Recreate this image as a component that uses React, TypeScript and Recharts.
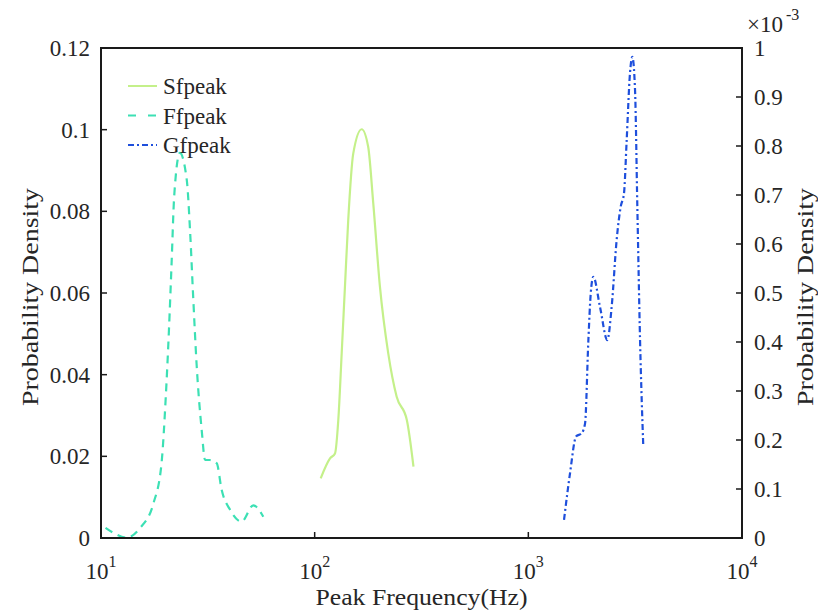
import React from 'react';
import { LineChart, Line, XAxis, YAxis, Legend, ReferenceArea, Label } from 'recharts';

// ---------- data ----------
const seriesNames = ['Sfpeak', 'Ffpeak', 'Gfpeak'];

const xTicks = [10, 100, 1000, 10000];
const xTickExponents = ['1', '2', '3', '4'];

const leftTicks = [0, 0.02, 0.04, 0.06, 0.08, 0.1, 0.12];
const leftTickLabels = ['0', '0.02', '0.04', '0.06', '0.08', '0.1', '0.12'];

const rightTicks = [0, 0.1, 0.2, 0.3, 0.4, 0.5, 0.6, 0.7, 0.8, 0.9, 1];
const rightTickLabels = ['0', '0.1', '0.2', '0.3', '0.4', '0.5', '0.6', '0.7', '0.8', '0.9', '1'];
const rightExponent = '-3';

// Sfpeak (left axis)
const sfFreq = [106.7, 118, 124.5, 129, 133.8, 138.6, 143.6, 151.6, 166, 178, 188, 202, 221, 242, 270, 290];
const sfDensity = [0.0146, 0.0195, 0.0207, 0.0289, 0.0452, 0.0616, 0.0779, 0.0942, 0.1001, 0.0958, 0.082, 0.0616, 0.0452, 0.0346, 0.0289, 0.0175];

// Ffpeak (left axis)
const ffFreq = [10.5, 11.5, 13.2, 15.2, 17.6, 19.2, 20.1, 20.8, 21.4, 22.0, 23.4, 25.2, 26.1, 27.0, 28.0, 29.6, 30.7, 32.4, 34.8, 36.7, 40.2, 45.5, 51.6, 57.5];
const ffDensity = [0.0025, 0.0012, 0.0001, 0.0024, 0.0085, 0.0183, 0.0346, 0.051, 0.0673, 0.0836, 0.0943, 0.0877, 0.0754, 0.0591, 0.0428, 0.0264, 0.0191, 0.0191, 0.0183, 0.0118, 0.0069, 0.004, 0.008, 0.0052];

// Gfpeak (right axis, in units of 1e-3)
const gfFreq = [1469, 1567, 1672, 1778, 1843, 1910, 1959, 2015, 2164, 2343, 2455, 2590, 2705, 2803, 2886, 2990, 3067, 3158, 3237, 3333, 3452];
const gfDensityE3 = [0.037, 0.132, 0.207, 0.214, 0.234, 0.404, 0.499, 0.533, 0.472, 0.404, 0.472, 0.608, 0.676, 0.703, 0.812, 0.948, 0.982, 0.914, 0.676, 0.404, 0.186];

const sfData = sfFreq.map((f, i) => ({ f, d: sfDensity[i] }));
const ffData = ffFreq.map((f, i) => ({ f, d: ffDensity[i] }));
const gfData = gfFreq.map((f, i) => ({ f, d: gfDensityE3[i] }));

// ---------- style ----------
const FONT = '"Liberation Serif", "Times New Roman", serif';
const TEXT = '#262626';
const AXIS = '#1a1a1a';
const SF_COLOR = '#c4f08a';
const FF_COLOR = '#3ce0b4';
const GF_COLOR = '#1e4fdc';
const FF_DASH = '8 6';
const GF_DASH = '6 3 2 3';

const W = 818;
const H = 613;
const PLOT_LEFT = 101;
const PLOT_RIGHT = 742;
const PLOT_TOP = 48;
const PLOT_BOTTOM = 538;
const TICK = 6;
const TICK_FONT = 23;
const SUP_FONT = 16;
const TITLE_FONT = 24;

const LeftTick = (props: any) => {
  const { x, y, payload } = props;
  const i = leftTicks.indexOf(payload.value);
  return (
    <g>
      <line x1={x} x2={x + TICK} y1={y} y2={y} stroke={AXIS} strokeWidth={1.5} />
      <text x={x - 11} y={y} dy="0.35em" textAnchor="end" fontSize={TICK_FONT} fontFamily={FONT} fill={TEXT}>
        {i >= 0 ? leftTickLabels[i] : String(payload.value)}
      </text>
    </g>
  );
};

const RightTick = (props: any) => {
  const { x, y, payload } = props;
  const i = rightTicks.indexOf(payload.value);
  return (
    <g>
      <line x1={x} x2={x - TICK} y1={y} y2={y} stroke={AXIS} strokeWidth={1.5} />
      <text x={x + 12} y={y} dy="0.35em" textAnchor="start" fontSize={TICK_FONT} fontFamily={FONT} fill={TEXT}>
        {i >= 0 ? rightTickLabels[i] : String(payload.value)}
      </text>
    </g>
  );
};

const BottomTick = (props: any) => {
  const { x, y, payload } = props;
  const i = xTicks.indexOf(payload.value);
  return (
    <g>
      <line x1={x} x2={x} y1={y} y2={y - TICK} stroke={AXIS} strokeWidth={1.5} />
      <text x={x} y={y + 41} textAnchor="middle" fontSize={TICK_FONT} fontFamily={FONT} fill={TEXT}>
        <tspan>10</tspan>
        <tspan dy={-12} fontSize={SUP_FONT}>{i >= 0 ? xTickExponents[i] : ''}</tspan>
      </text>
    </g>
  );
};

const LeftTitle = () => (
  <text
    x={30}
    y={297}
    dy="0.35em"
    transform="rotate(-90, 30, 297)"
    textAnchor="middle"
    fontSize={TITLE_FONT}
    fontFamily={FONT}
    fill={TEXT}
    textLength={218}
    lengthAdjust="spacingAndGlyphs"
  >
    Probability Density
  </text>
);

const RightTitle = () => (
  <g>
    <text
      x={805}
      y={297}
      dy="0.35em"
      transform="rotate(-90, 805, 297)"
      textAnchor="middle"
      fontSize={TITLE_FONT}
      fontFamily={FONT}
      fill={TEXT}
      textLength={218}
      lengthAdjust="spacingAndGlyphs"
    >
      Probability Density
    </text>
    <text x={747} y={32} textAnchor="start" fontSize={TICK_FONT} fontFamily={FONT} fill={TEXT}>
      ×10
    </text>
    <text x={786} y={20} textAnchor="start" fontSize={SUP_FONT} fontFamily={FONT} fill={TEXT}>
      {rightExponent}
    </text>
  </g>
);

const BottomTitle = () => (
  <text
    x={(PLOT_LEFT + PLOT_RIGHT) / 2}
    y={605}
    textAnchor="middle"
    fontSize={TITLE_FONT}
    fontFamily={FONT}
    fill={TEXT}
    textLength={212}
    lengthAdjust="spacingAndGlyphs"
  >
    Peak Frequency(Hz)
  </text>
);

const legendStyles = [
  { color: SF_COLOR, dash: undefined as string | undefined },
  { color: FF_COLOR, dash: '8 12' },
  { color: GF_COLOR, dash: '6 3 2 3' },
];

const LegendContent = () => (
  <svg width={180} height={100}>
    {seriesNames.map((name, i) => {
      const cy = 18 + i * 29.5;
      const st = legendStyles[i];
      return (
        <g key={name}>
          <line x1={10} x2={39} y1={cy} y2={cy} stroke={st.color} strokeWidth={2} strokeDasharray={st.dash} />
          <text x={45} y={cy} dy="0.35em" fontSize={TICK_FONT} fontFamily={FONT} fill={TEXT}>
            {name}
          </text>
        </g>
      );
    })}
  </svg>
);

export default function App() {
  return (
    <div style={{ position: 'absolute', left: 0, top: 0, width: W, height: H, background: '#fff' }}>
      <LineChart width={W} height={H} margin={{ top: PLOT_TOP, right: 0, bottom: 0, left: 0 }}>
        <XAxis
          dataKey="f"
          type="number"
          scale="log"
          domain={[10, 10000]}
          ticks={xTicks}
          interval={0}
          allowDataOverflow
          height={H - PLOT_BOTTOM}
          tickSize={0}
          tickMargin={0}
          tickLine={false}
          axisLine={{ stroke: AXIS, strokeWidth: 2 }}
          tick={<BottomTick />}
        >
          <Label content={<BottomTitle />} />
        </XAxis>
        <YAxis
          yAxisId="left"
          type="number"
          domain={[0, 0.12]}
          ticks={leftTicks}
          interval={0}
          allowDataOverflow
          width={PLOT_LEFT}
          tickSize={0}
          tickMargin={0}
          tickLine={false}
          axisLine={{ stroke: AXIS, strokeWidth: 2 }}
          tick={<LeftTick />}
        >
          <Label content={<LeftTitle />} />
        </YAxis>
        <YAxis
          yAxisId="right"
          orientation="right"
          type="number"
          domain={[0, 1]}
          ticks={rightTicks}
          interval={0}
          allowDataOverflow
          width={W - PLOT_RIGHT}
          tickSize={0}
          tickMargin={0}
          tickLine={false}
          axisLine={{ stroke: AXIS, strokeWidth: 2 }}
          tick={<RightTick />}
        >
          <Label content={<RightTitle />} />
        </YAxis>
        <ReferenceArea
          yAxisId="left"
          x1={10}
          x2={10000}
          y1={0}
          y2={0.12}
          fill="none"
          fillOpacity={0}
          stroke={AXIS}
          strokeWidth={2}
          ifOverflow="visible"
        />
        <Line
          name={seriesNames[0]}
          data={sfData}
          dataKey="d"
          yAxisId="left"
          type="monotone"
          stroke={SF_COLOR}
          strokeWidth={2.2}
          dot={false}
          activeDot={false}
          isAnimationActive={false}
        />
        <Line
          name={seriesNames[1]}
          data={ffData}
          dataKey="d"
          yAxisId="left"
          type="monotone"
          stroke={FF_COLOR}
          strokeWidth={2.2}
          strokeDasharray={FF_DASH}
          dot={false}
          activeDot={false}
          isAnimationActive={false}
        />
        <Line
          name={seriesNames[2]}
          data={gfData}
          dataKey="d"
          yAxisId="right"
          type="monotone"
          stroke={GF_COLOR}
          strokeWidth={2.2}
          strokeDasharray={GF_DASH}
          dot={false}
          activeDot={false}
          isAnimationActive={false}
        />
        <Legend
          layout="vertical"
          align="center"
          verticalAlign="middle"
          wrapperStyle={{ left: 118, top: 68, width: 180, height: 100 }}
          content={<LegendContent />}
        />
      </LineChart>
    </div>
  );
}
